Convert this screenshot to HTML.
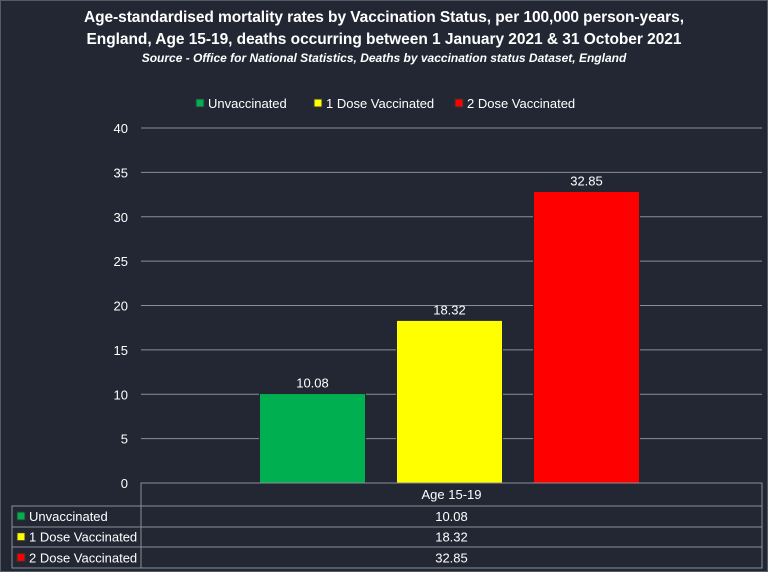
<!DOCTYPE html>
<html><head><meta charset="utf-8"><style>
body{margin:0;background:#222733;}
svg{display:block;font-family:"Liberation Sans",sans-serif;}
</style></head><body>
<svg id="c" width="768" height="572">
<rect x="0.5" y="0.5" width="767" height="571" fill="#222733" stroke="#555b66"/>
<text x="384" y="22" text-anchor="middle" fill="#fff" font-size="15.5" font-weight="bold" textLength="600">Age-standardised mortality rates by Vaccination Status, per 100,000 person-years,</text>
<text x="384" y="44" text-anchor="middle" fill="#fff" font-size="15.5" font-weight="bold" textLength="595">England, Age 15-19, deaths occurring between 1 January 2021 &amp; 31 October 2021</text>
<text x="384" y="62" text-anchor="middle" fill="#fff" font-size="12" font-weight="bold" font-style="italic">Source - Office for National Statistics, Deaths by vaccination status Dataset, England</text>
<g id="legend"></g>
<g id="grid"></g>
<g id="bars"></g>
<g id="table"></g>
</svg>
<script>
const categories=["Age 15-19"];
const seriesNames=["Unvaccinated","1 Dose Vaccinated","2 Dose Vaccinated"];
const seriesValues=[10.08,18.32,32.85];
const seriesColors=["#00b050","#ffff00","#ff0000"];
const yTicks=[0,5,10,15,20,25,30,35,40];
const NS="http://www.w3.org/2000/svg";
const x0=141,x1=762,yZero=483,yTop=128,yMax=40;
const yScale=v=>yZero-(v/yMax)*(yZero-yTop);
function mk(tag,attrs,parent,text){const e=document.createElementNS(NS,tag);for(const k in attrs)e.setAttribute(k,attrs[k]);if(text!==undefined)e.textContent=text;parent.appendChild(e);return e;}
const grid=document.getElementById('grid');
yTicks.forEach(t=>{
  const y=yScale(t);
  if(t>0){const l=mk('line',{x1:x0,x2:x1,y1:y,y2:y,stroke:'#8a8f98','stroke-width':1},grid);
  
  }
  const tx=mk('text',{x:128,y:y+5,'text-anchor':'end',fill:'#fff','font-size':13},grid,t);
  
  
});
const bars=document.getElementById('bars');
const catW=(x1-x0)/categories.length;
const barW=106,gap=31;
const groupW=seriesValues.length*barW+(seriesValues.length-1)*gap;
seriesValues.forEach((v,i)=>{
  const bx=x0+catW/2-groupW/2+i*(barW+gap)-2;
  const y=yScale(v);
  const r=mk('rect',{x:bx,y:y,width:barW,height:yZero-y,fill:seriesColors[i],stroke:'#222733','stroke-width':1},bars);
  
  
  const t=mk('text',{x:bx+barW/2,y:y-6,'text-anchor':'middle',fill:'#fff','font-size':13},bars,v.toFixed(2));
  
  
});
mk('line',{x1:x0,x2:x1,y1:yZero,y2:yZero,stroke:'#8a8f98'},bars);
const lg=document.getElementById('legend');
const legX=[196,314,455];
seriesNames.forEach((n,i)=>{
  const g=mk('g',{},lg);
  
  
  mk('rect',{x:legX[i],y:99,width:8,height:8,fill:seriesColors[i],stroke:'#333'},g);
  mk('text',{x:legX[i]+12,y:108,fill:'#fff','font-size':13},g,n);
});
const tb=document.getElementById('table');
const st={stroke:'#8a8f98',fill:'none'};
mk('rect',Object.assign({x:x0,y:yZero,width:x1-x0,height:85},st),tb);
mk('rect',Object.assign({x:12,y:506,width:x1-12,height:62},st),tb);
[527,547].forEach(y=>mk('line',{x1:12,x2:x1,y1:y,y2:y,stroke:'#8a8f98'},tb));
mk('line',{x1:x0,x2:x0,y1:506,y2:568,stroke:'#8a8f98'},tb);
const ct=mk('text',{x:x0+catW/2,y:499,'text-anchor':'middle',fill:'#fff','font-size':13},tb,categories[0]);


seriesNames.forEach((n,i)=>{
  const y=506+i*20.7;
  const g=mk('g',{},tb);
  
  
  mk('rect',{x:17,y:y+6,width:8,height:8,fill:seriesColors[i],stroke:'#333'},g);
  mk('text',{x:29,y:y+15,fill:'#fff','font-size':13},g,n);
  mk('text',{x:x0+catW/2,y:y+15,'text-anchor':'middle',fill:'#fff','font-size':13},g,seriesValues[i].toFixed(2));
});
</script>
</body></html>
